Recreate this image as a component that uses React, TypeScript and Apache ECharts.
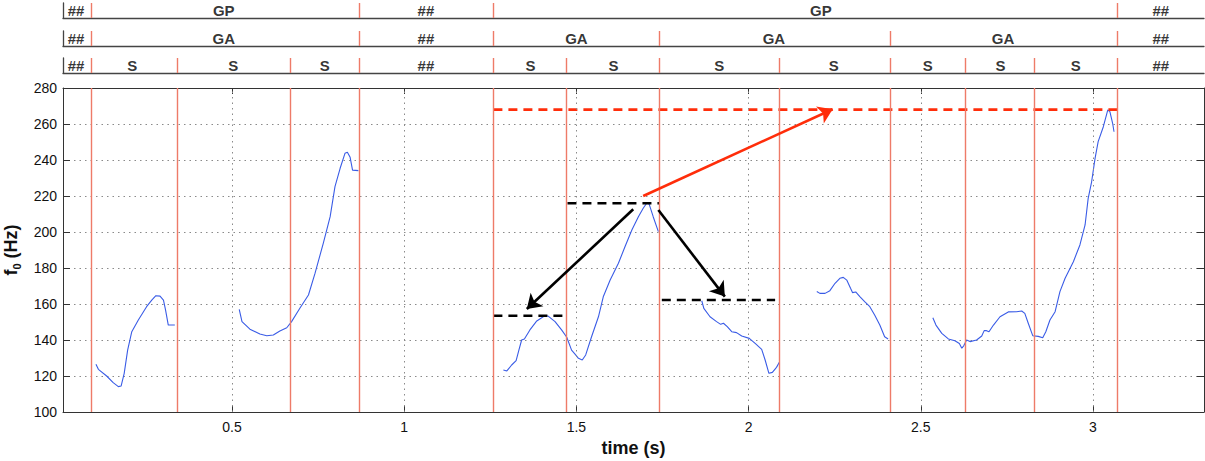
import React, { useEffect, useRef } from "react";
import * as echarts from "echarts";

// ---------- data ----------
const XMIN = 0.0093;
const XMAX = 3.3223;
const xTicks = [0.5, 1, 1.5, 2, 2.5, 3];

const boundaries = [0.085, 0.336, 0.671, 0.867, 1.259, 1.474, 1.741, 2.089, 2.406, 2.635, 2.828, 3.072];

const tier1Bounds = [0.085, 0.867, 1.259, 3.072];
const tier1Labels = ["##", "GP", "##", "GP", "##"];
const tier1Centers = [0.047, 0.476, 1.063, 2.21, 3.197];

const tier2Bounds = [0.085, 0.867, 1.259, 1.741, 2.406, 3.072];
const tier2Labels = ["##", "GA", "##", "GA", "GA", "GA", "##"];
const tier2Centers = [0.047, 0.476, 1.063, 1.5, 2.0735, 2.739, 3.197];

const tier3Bounds = boundaries;
const tier3Labels = ["##", "S", "S", "S", "##", "S", "S", "S", "S", "S", "S", "S", "##"];
const tier3Centers = [0.047, 0.2105, 0.5035, 0.769, 1.063, 1.3665, 1.6075, 1.915, 2.2475, 2.5205, 2.7315, 2.95, 3.197];

const f0Seg1 = [
  [0.105, 126.5], [0.112, 123.7], [0.136, 120], [0.155, 116.3], [0.17, 114.1], [0.178, 114.4],
  [0.187, 121.5], [0.197, 134.4], [0.209, 144.6], [0.228, 151.1], [0.252, 158.5], [0.267, 162.2],
  [0.279, 164.6], [0.291, 164.4], [0.301, 162.2], [0.307, 156.7], [0.315, 148.3], [0.334, 148.3],
];
const f0Seg2 = [
  [0.521, 157], [0.529, 150.2], [0.552, 146], [0.581, 143.3], [0.601, 142.4], [0.62, 142.8],
  [0.639, 145], [0.659, 146.8], [0.673, 150.2], [0.697, 157.6], [0.722, 165], [0.741, 177],
  [0.765, 193.7], [0.785, 208.5], [0.799, 225.2], [0.814, 235.4], [0.828, 243.7], [0.835, 244.3],
  [0.843, 241.5], [0.85, 234.4], [0.867, 234.1],
];
const f0Seg3 = [
  [1.288, 123.3], [1.298, 122.8], [1.312, 126.1], [1.325, 128.5], [1.333, 134.4], [1.341, 140],
  [1.349, 140.6], [1.365, 145.6], [1.385, 150.6], [1.407, 153.3], [1.418, 153.3], [1.438, 150.2],
  [1.457, 145.6], [1.472, 141.5], [1.486, 134.4], [1.496, 132.2], [1.506, 129.8], [1.517, 128.9],
  [1.527, 131.7], [1.544, 141.8], [1.564, 152.9], [1.578, 164], [1.598, 173.3], [1.622, 182.6],
  [1.641, 191.8], [1.661, 201.1], [1.68, 208.5], [1.694, 213.2], [1.704, 216], [1.711, 215.6],
  [1.723, 208.5], [1.738, 200.2],
];
const f0Seg4 = [
  [1.864, 161.8], [1.87, 157.6], [1.888, 152.9], [1.907, 150.2], [1.919, 148.7], [1.927, 149.3],
  [1.938, 147.4], [1.951, 144.6], [1.965, 144.1], [1.98, 142.2], [2.002, 140.9], [2.019, 138.1],
  [2.038, 134.8], [2.048, 128.9], [2.059, 121.5], [2.069, 122], [2.081, 124.8], [2.09, 127.9],
];
const f0Seg5 = [
  [2.198, 166.9], [2.207, 165.9], [2.222, 165.9], [2.236, 167.4], [2.251, 171.5], [2.265, 174.3],
  [2.275, 174.8], [2.285, 173.3], [2.296, 168.7], [2.302, 166.3], [2.311, 166.7], [2.323, 164.1],
  [2.337, 161.3], [2.352, 158.5], [2.366, 153.9], [2.381, 148.3], [2.395, 141.8], [2.405, 140.6],
];
const f0Seg6 = [
  [2.535, 152.4], [2.544, 148.3], [2.561, 143.7], [2.58, 140.6], [2.599, 139.6], [2.612, 138.1],
  [2.619, 135.4], [2.625, 136.9], [2.633, 140], [2.643, 139.1], [2.662, 140], [2.677, 142.2],
  [2.684, 145.2], [2.691, 145.2], [2.698, 144.6], [2.711, 148.3], [2.73, 152.9], [2.754, 155.6],
  [2.778, 155.7], [2.793, 156.1], [2.802, 154.8], [2.812, 149.3], [2.825, 142.4], [2.841, 142],
  [2.854, 141.3], [2.863, 144.6], [2.875, 151.1], [2.89, 155.7], [2.904, 166.9], [2.919, 174.3],
  [2.943, 183.5], [2.962, 192.8], [2.977, 203.9], [2.986, 218.7], [2.996, 227.9], [3.006, 240.9],
  [3.015, 250.2], [3.03, 258.5], [3.043, 267.8], [3.049, 266.9], [3.057, 260.4], [3.061, 255.7],
];
const f0Segments = [f0Seg1, f0Seg2, f0Seg3, f0Seg4, f0Seg5, f0Seg6];

const redLevel = [[1.259, 268], [3.072, 268]];
const blackLevelLeft = [[1.259, 153.5], [1.470, 153.5]];
const blackLevelPeak = [[1.474, 216], [1.741, 216]];
const blackLevelRight = [[1.748, 162.2], [2.077, 162.2]];

const blackArrows = [
  [[1.665, 212.6], [1.356, 157.2]],
  [[1.738, 212.2], [1.931, 164.1]],
];
const redArrows = [[[1.694, 220], [2.244, 268.2]]];

// ---------- styles ----------
const FONT = "Liberation Sans, Arial, Helvetica, sans-serif";
const BOUND_COLOR = "#ee7b68";
const RED = "#ff2d0a";
const AXIS_COLOR = "#333";

export default function App() {
  const ref = useRef<HTMLDivElement>(null);

  useEffect(() => {
    if (!ref.current) return;
    const chart = echarts.init(ref.current, null, { renderer: "svg" });

    const plotLeft = 63;
    const plotWidth = 1141;
    const tierTops = [3, 31, 58];
    const tierH = 15;

    const tiers = [
      { bounds: tier1Bounds, labels: tier1Labels, centers: tier1Centers },
      { bounds: tier2Bounds, labels: tier2Labels, centers: tier2Centers },
      { bounds: tier3Bounds, labels: tier3Labels, centers: tier3Centers },
    ];

    const grids: any[] = [
      { left: plotLeft, top: 88, width: plotWidth, height: 324, outerBoundsMode: "none", containLabel: false },
      ...tierTops.map((t) => ({ left: plotLeft, top: t, width: plotWidth, height: tierH, outerBoundsMode: "none", containLabel: false })),
    ];

    const xAxes: any[] = [
      {
        type: "value", gridIndex: 0, position: "bottom", min: XMIN, max: XMAX,
        axisLine: { show: true, onZero: false, lineStyle: { color: AXIS_COLOR, width: 1 } },
        axisTick: { show: true, inside: true, length: 6, customValues: xTicks, lineStyle: { color: AXIS_COLOR } },
        axisLabel: { show: true, customValues: xTicks, margin: 8, color: "#111", fontSize: 14, fontFamily: FONT },
        splitLine: { show: false },
        name: "time (s)", nameLocation: "middle", nameGap: 24,
        nameTextStyle: { fontSize: 18, fontWeight: "bold", color: "#111", fontFamily: FONT },
      },
      {
        type: "value", gridIndex: 0, position: "top", min: XMIN, max: XMAX,
        axisLine: { show: true, onZero: false, lineStyle: { color: AXIS_COLOR, width: 1 } },
        axisTick: { show: true, inside: true, length: 6, customValues: xTicks, lineStyle: { color: AXIS_COLOR } },
        axisLabel: { show: false },
        splitLine: { show: false },
      },
      ...tierTops.map((_, i) => ({
        type: "value", gridIndex: i + 1, position: "bottom", min: XMIN, max: XMAX,
        axisLine: { show: true, onZero: false, lineStyle: { color: "#444", width: 1.3 } },
        axisTick: { show: false }, axisLabel: { show: false }, splitLine: { show: false },
      })),
    ];

    const yAxes: any[] = [
      {
        type: "value", gridIndex: 0, position: "left", min: 100, max: 280, interval: 20,
        axisLine: { show: true, onZero: false, lineStyle: { color: AXIS_COLOR, width: 1 } },
        axisTick: { show: true, inside: true, length: 7, lineStyle: { color: AXIS_COLOR } },
        axisLabel: { show: true, margin: 6, color: "#111", fontSize: 14, fontFamily: FONT },
        splitLine: { show: true, lineStyle: { color: "#8a8a8a", width: 1, type: [1.5, 4] } },
        name: "{f|f}{s|0}{f| (Hz)}", nameLocation: "middle", nameGap: 30, nameRotate: 90,
        nameTextStyle: {
          color: "#111",
          rich: {
            f: { fontSize: 18, fontWeight: "bold", fontFamily: FONT, color: "#111", lineHeight: 24, verticalAlign: "middle" },
            s: { fontSize: 11, fontWeight: "bold", fontFamily: FONT, color: "#111", lineHeight: 10, verticalAlign: "bottom" },
          },
        },
      },
      {
        type: "value", gridIndex: 0, position: "right", min: 100, max: 280, interval: 20,
        axisLine: { show: true, onZero: false, lineStyle: { color: AXIS_COLOR, width: 1 } },
        axisTick: { show: true, inside: true, length: 7, lineStyle: { color: AXIS_COLOR } },
        axisLabel: { show: false },
        splitLine: { show: false },
      },
      ...tierTops.map((_, i) => ({
        type: "value", gridIndex: i + 1, position: "left", min: 0, max: 1,
        axisLine: { show: true, onZero: false, lineStyle: { color: "#444", width: 1.3 } },
        axisTick: { show: false }, axisLabel: { show: false }, splitLine: { show: false },
      })),
    ];

    const series: any[] = [];

    // vertical dotted grid lines
    series.push({
      type: "line", xAxisIndex: 0, yAxisIndex: 0, data: [], silent: true,
      markLine: {
        silent: true, symbol: ["none", "none"], label: { show: false },
        lineStyle: { color: "#8a8a8a", width: 1, type: [1.5, 4] },
        emphasis: { disabled: true },
        data: xTicks.map((v) => ({ xAxis: v })),
      },
    });

    // boundary lines in main plot
    series.push({
      type: "line", xAxisIndex: 0, yAxisIndex: 0, data: [], silent: true,
      markLine: {
        silent: true, symbol: ["none", "none"], label: { show: false },
        lineStyle: { color: BOUND_COLOR, width: 1.4, type: "solid" },
        emphasis: { disabled: true },
        data: boundaries.map((v) => ({ xAxis: v })),
      },
    });

    // f0 curves
    f0Segments.forEach((seg) => {
      series.push({
        type: "line", xAxisIndex: 0, yAxisIndex: 0, data: seg, showSymbol: false, symbol: "none",
        lineStyle: { color: "#3a5ce6", width: 1.1 }, silent: true, z: 3,
      });
    });

    // level lines
    series.push({
      type: "line", xAxisIndex: 0, yAxisIndex: 0, data: redLevel, symbol: "none", silent: true, z: 4,
      lineStyle: { color: RED, width: 2.6, type: [9, 6] },
    });
    [blackLevelLeft, blackLevelPeak, blackLevelRight].forEach((d) => {
      series.push({
        type: "line", xAxisIndex: 0, yAxisIndex: 0, data: d, symbol: "none", silent: true, z: 4,
        lineStyle: { color: "#000", width: 2.6, type: [9, 6] },
      });
    });

    // arrows
    series.push({
      type: "line", xAxisIndex: 0, yAxisIndex: 0, data: [], silent: true, z: 5,
      markLine: {
        silent: true, symbol: ["none", "arrow"], symbolSize: 14, label: { show: false },
        emphasis: { disabled: true },
        data: [
          ...blackArrows.map((a) => [
            { coord: a[0], lineStyle: { color: "#000", width: 2.6, type: "solid" }, itemStyle: { color: "#000" } },
            { coord: a[1] },
          ]),
          ...redArrows.map((a) => [
            { coord: a[0], lineStyle: { color: RED, width: 2.6, type: "solid" }, itemStyle: { color: RED } },
            { coord: a[1] },
          ]),
        ],
      },
    });

    // tiers
    tiers.forEach((tier, i) => {
      series.push({
        type: "scatter", xAxisIndex: i + 2, yAxisIndex: i + 2, silent: true,
        symbolSize: 1, itemStyle: { color: "rgba(0,0,0,0)" },
        data: tier.labels.map((l, k) => ({ value: [tier.centers[k], 0.5], name: l })),
        label: {
          show: true, position: "inside", formatter: "{b}", color: "#000",
          fontSize: 15, fontWeight: "bold", fontFamily: FONT,
        },
        markLine: {
          silent: true, symbol: ["none", "none"], label: { show: false },
          lineStyle: { color: BOUND_COLOR, width: 1.4, type: "solid" },
          emphasis: { disabled: true },
          data: tier.bounds.map((v) => ({ xAxis: v })),
        },
      });
    });

    chart.setOption({
      animation: false,
      backgroundColor: "#fff",
      grid: grids,
      xAxis: xAxes,
      yAxis: yAxes,
      series,
    });

    return () => chart.dispose();
  }, []);

  return (
    <div
      ref={ref}
      style={{ position: "absolute", left: 0, top: 0, width: 1205, height: 461, background: "#fff" }}
    />
  );
}
